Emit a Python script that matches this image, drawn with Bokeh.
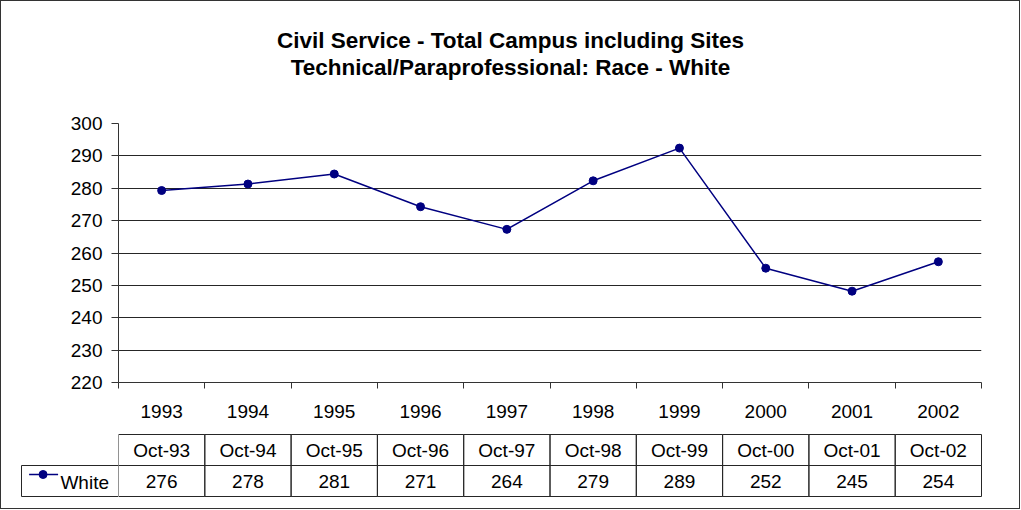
from bokeh.plotting import figure
from bokeh.models import Range1d, FixedTicker, ColumnDataSource
from bokeh.layouts import column, row
from bokeh.embed import file_html
from bokeh.resources import INLINE
from bokeh.core.properties import value

# ---------------- data ----------------
years = ["1993", "1994", "1995", "1996", "1997", "1998", "1999", "2000", "2001", "2002"]
table_headers = ["Oct-93", "Oct-94", "Oct-95", "Oct-96", "Oct-97", "Oct-98", "Oct-99", "Oct-00", "Oct-01", "Oct-02"]
white_table = [276, 278, 281, 271, 264, 279, 289, 252, 245, 254]
# marker positions as drawn in the chart
white_plotted = [279.3, 281.3, 284.4, 274.3, 267.3, 282.3, 292.4, 255.3, 248.2, 257.3]
series_name = "White"
y_ticks = [220, 230, 240, 250, 260, 270, 280, 290, 300]
title_lines = ["Civil Service - Total Campus including Sites",
               "Technical/Paraprofessional: Race - White"]

FONT = "Liberation Sans"
LABEL_SIZE = "19px"
NAVY = "#000080"
DARK = "#262626"

n = len(years)
xs = [i + 0.5 for i in range(n)]

# ---------------- layout (pixels) ----------------
W = 1018
LEFT = 117          # frame left of the chart
RIGHT = 38          # space right of the chart frame
unit = (W - LEFT - RIGHT) / n
T_H = 100
A_H = 327
B_H = 80
L_W = LEFT

def bare(fig):
    fig.outline_line_color = None
    fig.background_fill_color = "white"
    fig.border_fill_color = "white"
    return fig

# ---------------- title ----------------
pt = bare(figure(width=W, height=T_H, output_backend="svg", toolbar_location=None,
                 x_range=Range1d(0, n), y_range=Range1d(T_H, 0),
                 x_axis_type=None, y_axis_type=None,
                 min_border_left=LEFT, min_border_right=RIGHT,
                 min_border_top=0, min_border_bottom=0))
title_x = (W / 2 - LEFT) / unit
pt.text(x=[title_x, title_x], y=[39, 66], text=title_lines, text_align="center",
        text_baseline="alphabetic", text_font=value(FONT), text_font_size="22.5px",
        text_font_style="bold", text_color="black")

# ---------------- main chart ----------------
pa = bare(figure(width=W, height=A_H, output_backend="svg", toolbar_location=None,
                 x_range=Range1d(0, n), y_range=Range1d(y_ticks[0], y_ticks[-1]),
                 min_border_left=LEFT, min_border_right=RIGHT,
                 min_border_top=22, min_border_bottom=46))

yaxis = pa.yaxis[0]
yaxis.ticker = FixedTicker(ticks=y_ticks, minor_ticks=[])
yaxis.axis_line_color = "#333333"
yaxis.major_tick_line_color = "#333333"
yaxis.major_tick_out = 7
yaxis.major_tick_in = 0
yaxis.minor_tick_out = 0
yaxis.minor_tick_in = 0
yaxis.major_label_standoff = 9
yaxis.major_label_text_font = FONT
yaxis.major_label_text_font_size = LABEL_SIZE
yaxis.major_label_text_color = "black"

xaxis = pa.xaxis[0]
xaxis.ticker = FixedTicker(ticks=xs, minor_ticks=list(range(n + 1)))
xaxis.major_label_overrides = {x: y for x, y in zip(xs, years)}
xaxis.axis_line_color = "#333333"
xaxis.major_tick_line_color = None
xaxis.major_tick_out = 0
xaxis.major_tick_in = 0
xaxis.minor_tick_line_color = "#333333"
xaxis.minor_tick_out = 6
xaxis.minor_tick_in = 0
xaxis.major_label_standoff = 16
xaxis.major_label_text_font = FONT
xaxis.major_label_text_font_size = LABEL_SIZE
xaxis.major_label_text_color = "black"

pa.ygrid.ticker = FixedTicker(ticks=y_ticks)
pa.ygrid.grid_line_color = DARK
pa.ygrid.grid_line_width = 1
pa.xgrid.visible = False

src = ColumnDataSource(dict(x=xs, y=white_plotted))
pa.line("x", "y", source=src, line_color=NAVY, line_width=1.5)
pa.scatter("x", "y", source=src, size=8, marker="circle", fill_color=NAVY, line_color=NAVY)

# ---------------- data table ----------------
pad_y = 1 / 31
pb = bare(figure(width=W - L_W, height=B_H, output_backend="svg", toolbar_location=None,
                 x_range=Range1d(0, n + 1 / unit), y_range=Range1d(-pad_y, 2 + pad_y),
                 x_axis_type=None, y_axis_type=None,
                 min_border_left=0, min_border_right=RIGHT - 1,
                 min_border_top=5, min_border_bottom=11))

cells = ColumnDataSource(dict(
    left=list(range(n)) * 2,
    right=[i + 1 for i in range(n)] * 2,
    bottom=[1] * n + [0] * n,
    top=[2] * n + [1] * n,
))
pb.quad(left="left", right="right", bottom="bottom", top="top", source=cells,
        fill_color=None, line_color=DARK, line_width=1)
head_src = ColumnDataSource(dict(x=xs, y=[1.5] * n, t=table_headers))
pb.text("x", "y", text="t", source=head_src, text_align="center", text_baseline="middle",
        text_font=value(FONT), text_font_size=LABEL_SIZE, text_color="black")
val_src = ColumnDataSource(dict(x=xs, y=[0.5] * n, t=[str(v) for v in white_table]))
pb.text("x", "y", text="t", source=val_src, text_align="center", text_baseline="middle",
        text_font=value(FONT), text_font_size=LABEL_SIZE, text_color="black")

# ---------------- series label cell (legend key) ----------------
L_FRAME = 99
cell_left = -97 / unit
pl = bare(figure(width=L_W, height=B_H, output_backend="svg", toolbar_location=None,
                 x_range=Range1d(-L_FRAME / unit, 0), y_range=Range1d(-pad_y, 2 + pad_y),
                 x_axis_type=None, y_axis_type=None,
                 min_border_left=L_W - L_FRAME, min_border_right=0,
                 min_border_top=5, min_border_bottom=11))
pl.quad(left=[cell_left], right=[0], bottom=[0], top=[1],
        fill_color=None, line_color=DARK, line_width=1)
key_y = 0.71
pl.line(x=[cell_left + 0.088, cell_left + 0.424], y=[key_y, key_y], line_color=NAVY, line_width=1.5)
pl.scatter(x=[cell_left + 0.25], y=[key_y], size=8, marker="circle", fill_color=NAVY, line_color=NAVY)
pl.text(x=[-0.11], y=[0.45], text=[series_name], text_align="right", text_baseline="middle",
        text_font=value(FONT), text_font_size=LABEL_SIZE, text_color="black")

layout = column(pt, pa, row(pl, pb), styles={"border": "1px solid #333333"})

open("out.html", "w").write(file_html(layout, INLINE))
